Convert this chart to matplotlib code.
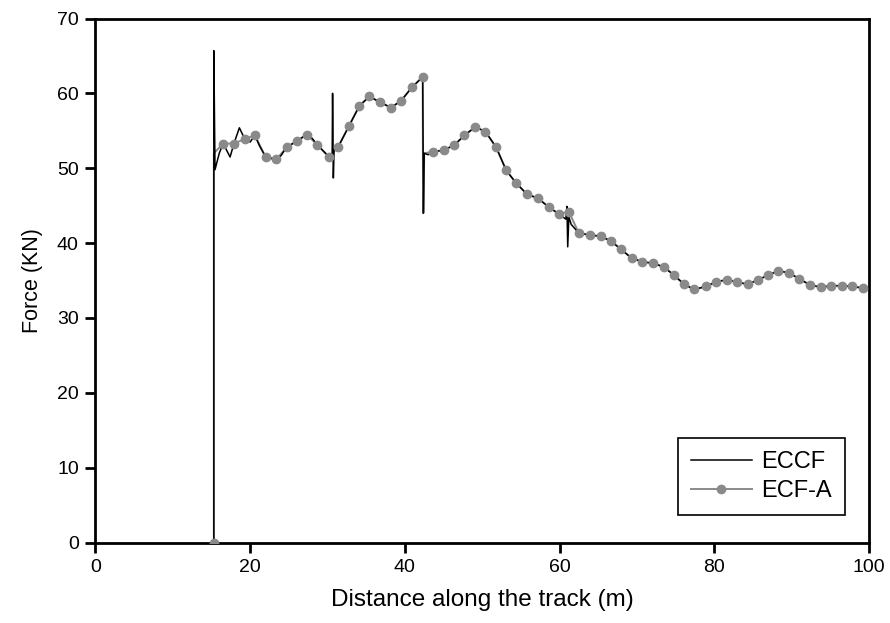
import matplotlib.pyplot as plt
from matplotlib.lines import Line2D

plt.rcParams['font.family'] = ['Liberation Sans', 'DejaVu Sans']

# ECF-A samples (markers), spaced about every 1.35 m
ecf_x = [15.3, 15.3, 16.5, 17.9, 19.3, 20.6, 22.0, 23.4, 24.7, 26.0, 27.3, 28.7,
         30.2, 31.4, 32.8, 34.1, 35.4, 36.8, 38.2, 39.5, 40.9, 42.3, 42.35, 42.5,
         43.6, 45.0, 46.4, 47.7, 49.1, 50.4, 51.8, 53.1, 54.4, 55.8, 57.2, 58.6,
         59.9, 61.2, 62.5, 63.9, 65.3, 66.6, 67.9, 69.3, 70.7, 72.1, 73.5, 74.8,
         76.1, 77.4, 78.9, 80.2, 81.6, 82.9, 84.3, 85.7, 86.9, 88.3, 89.7, 91.0,
         92.4, 93.8, 95.1, 96.5, 97.8, 99.2, 100.0]
ecf_y = [0.0, 52.0, 53.3, 53.3, 53.9, 54.4, 51.5, 51.2, 52.8, 53.6, 54.5, 53.1,
         51.5, 52.9, 55.7, 58.3, 59.6, 58.8, 58.1, 59.0, 60.8, 62.2, 44.0, 52.0,
         52.2, 52.4, 53.1, 54.4, 55.5, 54.9, 52.8, 49.7, 48.0, 46.5, 46.0, 44.8,
         43.9, 44.2, 41.3, 41.1, 40.9, 40.3, 39.2, 38.0, 37.5, 37.3, 36.8, 35.7,
         34.5, 33.8, 34.2, 34.8, 35.1, 34.8, 34.5, 35.1, 35.7, 36.3, 36.0, 35.2,
         34.4, 34.1, 34.3, 34.3, 34.2, 34.0, 34.0]
# points of the line that carry no marker
ecf_hidden = [1, 22, 23, 66]

# ECCF curve, finer in the transient regions
eccf_x = [15.3, 15.3, 15.45, 16.0, 16.5, 17.4, 17.9, 18.6, 19.3, 20.0, 20.6, 21.2,
          22.0, 22.7, 23.4, 24.0, 24.7, 26.0, 27.3, 28.0, 28.7, 30.2, 30.6, 30.65,
          30.75, 30.85, 31.4, 32.8, 34.1, 35.4, 36.8, 38.2, 39.5, 40.9, 42.3, 42.4,
          42.5, 43.0, 43.6, 45.0, 46.4, 47.7, 49.1, 50.4, 51.8, 53.1, 54.4, 55.8,
          57.2, 58.6, 59.9, 60.8, 60.95, 61.05, 61.2, 61.5, 62.5]
eccf_y = [0.0, 65.7, 49.8, 52.0, 53.3, 51.5, 53.3, 55.4, 53.9, 53.5, 54.4, 53.0,
          51.5, 51.3, 51.2, 51.7, 52.8, 53.6, 54.5, 54.0, 53.1, 51.5, 52.0, 60.0,
          48.7, 52.5, 52.9, 55.7, 58.3, 59.6, 58.8, 58.1, 59.0, 60.8, 62.2, 44.0,
          52.0, 51.8, 52.2, 52.4, 53.1, 54.4, 55.5, 54.9, 52.8, 49.7, 48.0, 46.5,
          46.0, 44.8, 43.9, 43.2, 44.9, 39.5, 43.5, 42.5, 41.3]
# past the last transient ECCF runs along the ECF-A samples
tail = [i for i, x in enumerate(ecf_x) if x > 62.5]
eccf_x = eccf_x + [ecf_x[i] for i in tail]
eccf_y = eccf_y + [ecf_y[i] for i in tail]

x_ticks = [0, 20, 40, 60, 80, 100]
y_ticks = [0, 10, 20, 30, 40, 50, 60, 70]

fig = plt.figure(figsize=(8.9, 6.23), dpi=100)
ax = fig.add_axes([0.1073, 0.1292, 0.8691, 0.8411])

gray = '#8a8a8a'
marks = [i for i in range(len(ecf_x)) if i not in ecf_hidden]
ax.plot(ecf_x, ecf_y, color=gray, lw=1.4, zorder=1)
ax.plot(eccf_x, eccf_y, color='black', lw=1.1, zorder=2)
ax.plot([ecf_x[i] for i in marks], [ecf_y[i] for i in marks], ls='none',
        marker='o', ms=6, color=gray, mec=gray, zorder=3)

ax.set_xlim(0, 100)
ax.set_ylim(0, 70)
ax.set_xticks(x_ticks)
ax.set_yticks(y_ticks)
ax.tick_params(direction='out', length=7, width=2, labelsize=14, pad=5)
for s in ax.spines.values():
    s.set_linewidth(2)

ax.set_xlabel('Distance along the track (m)', fontsize=17.5, labelpad=9)
ax.set_ylabel('Force (KN)', fontsize=15.5, labelpad=10)

handles = [Line2D([], [], color='black', lw=1.1),
           Line2D([], [], color=gray, lw=1.4, marker='o', ms=6)]
leg = ax.legend(handles, ['ECCF', 'ECF-A'], loc='lower right',
                bbox_to_anchor=(0.969, 0.0525), borderaxespad=0,
                fancybox=False, edgecolor='black', fontsize=17,
                handlelength=2.6, handletextpad=0.4, borderpad=0.55,
                labelspacing=0.3, framealpha=1)
leg.get_frame().set_linewidth(1.2)

fig.savefig('out.png', dpi=100)
